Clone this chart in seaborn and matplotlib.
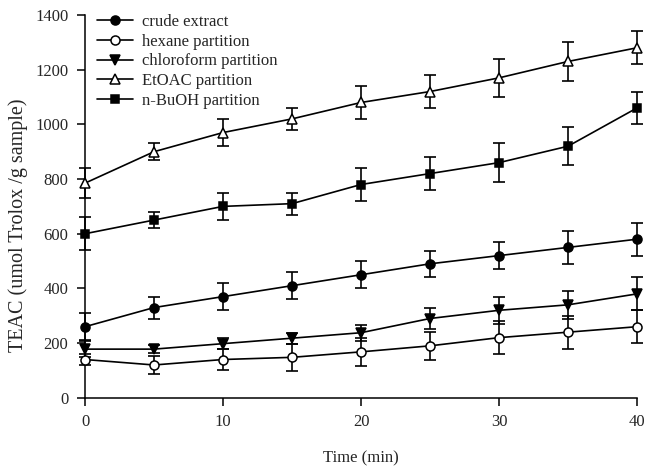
import numpy as np
import pandas as pd
import matplotlib
matplotlib.use("Agg")
import matplotlib.pyplot as plt
import seaborn as sns

# ── data ───────────────────────────────────────────────────
time_min = [0, 5, 10, 15, 20, 25, 30, 35, 40]

crude = [260, 330, 370, 410, 450, 490, 520, 550, 580]
crude_err = [50, 40, 50, 50, 50, 48, 50, 60, 60]

hexane = [140, 120, 140, 148, 168, 190, 220, 240, 260]
hexane_err = [20, 32, 40, 50, 50, 50, 60, 60, 60]

chloroform = [178, 178, 198, 218, 238, 290, 320, 340, 380]
chloroform_err = [28, 15, 20, 20, 30, 40, 50, 50, 60]

etoac = [785, 900, 970, 1020, 1080, 1120, 1170, 1230, 1280]
etoac_err = [55, 30, 50, 40, 60, 60, 70, 70, 60]

buoh = [600, 650, 700, 710, 780, 820, 860, 920, 1060]
buoh_err = [60, 30, 50, 40, 60, 60, 70, 70, 60]

# name, values, errors, marker, face colour, marker size
series = [
    ("crude extract", crude, crude_err, "o", "black", 6.5),
    ("hexane partition", hexane, hexane_err, "o", "white", 6.5),
    ("chloroform partition", chloroform, chloroform_err, "v", "black", 7),
    ("EtOAC partition", etoac, etoac_err, "^", "white", 7),
    ("n-BuOH partition", buoh, buoh_err, "s", "black", 6),
]

# ── style ──────────────────────────────────────────────────
sns.set_style("ticks")
plt.rcParams["font.family"] = ["Liberation Serif", "DejaVu Serif"]

fig = plt.figure(figsize=(6.54, 4.68), dpi=100)
ax = fig.add_axes([0.13, 0.15, 0.844, 0.818])

for name, vals, errs, mk, face, ms in series:
    ax.errorbar(time_min, vals, yerr=errs, fmt="none", ecolor="black",
                elinewidth=1.2, capsize=4, capthick=1.2, clip_on=False, zorder=2)
    sns.lineplot(x=time_min, y=vals, ax=ax, color="black", linewidth=1.2,
                 marker=mk, markersize=ms,
                 markerfacecolor=face, markeredgecolor="black",
                 markeredgewidth=1.1, label=name, clip_on=False, zorder=3)

ax.set_xlim(0, 40)
ax.set_ylim(0, 1400)
ax.set_xticks([0, 10, 20, 30, 40])
ax.set_yticks(range(0, 1401, 200))
ax.set_xlabel("Time (min)", fontsize=12, labelpad=14)
ax.set_ylabel("TEAC (umol Trolox /g sample)", fontsize=14.5)
ax.yaxis.set_label_coords(-0.103, 0.452)
ax.tick_params(axis="both", labelsize=12, length=6, width=1.1, color="black",
               direction="out", pad=6)
for side in ["left", "bottom"]:
    ax.spines[side].set_linewidth(1.1)
    ax.spines[side].set_color("black")
sns.despine(ax=ax)

ax.legend(loc="upper left", bbox_to_anchor=(0.0, 1.033), frameon=False,
          fontsize=12, handlelength=2.2, handletextpad=0.5, labelspacing=0.22,
          borderaxespad=0.3)

fig.savefig("out.png", dpi=100)
